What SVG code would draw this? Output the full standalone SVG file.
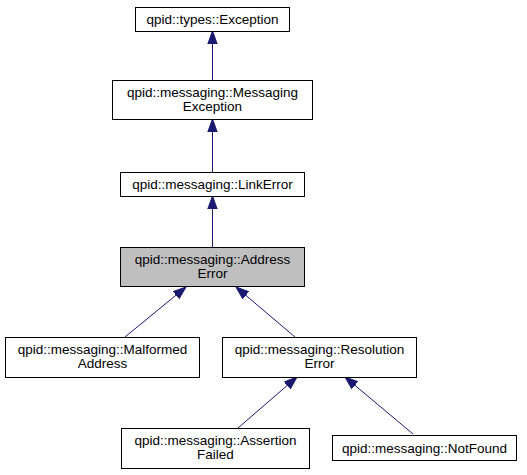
<svg xmlns="http://www.w3.org/2000/svg" width="527" height="475" viewBox="0 0 527 475">
<style>
.node rect{fill:#ffffff;stroke:#000000;stroke-width:1}
.node.cur rect{fill:#bfbfbf}
.node text{font-family:"Liberation Sans",Arial,Helvetica,sans-serif;font-size:13.5px;fill:#000000;text-anchor:middle}
.edge{stroke:#191970;stroke-width:1;fill:none;marker-end:url(#ah)}
</style>
<defs>
<marker id="ah" markerUnits="userSpaceOnUse" markerWidth="14" markerHeight="12" refX="13" refY="0" viewBox="0 -6 14 12" orient="auto">
<path d="M0,-4.7 L13,0 L0,4.7 Z" fill="#191970" stroke="#191970" stroke-width="1"/>
</marker>
</defs>
<rect width="527" height="475" fill="#ffffff"/>
<g id="edges">
<path class="edge" d="M212.5,80 L212.5,31"/>
<path class="edge" d="M212.5,172 L212.5,119"/>
<path class="edge" d="M212.5,247 L212.5,196"/>
<path class="edge" d="M125,337 L186,287"/>
<path class="edge" d="M295,337 L236,287"/>
<path class="edge" d="M238,428 L297,377"/>
<path class="edge" d="M413,434 L345,377"/>
</g>
<g id="n_types_exception" class="node">
<rect x="135.5" y="7.5" width="154" height="24"/>
<text x="212.5" y="24">qpid::types::Exception</text>
</g>
<g id="n_messaging_exception" class="node">
<rect x="112.5" y="80.5" width="200" height="39"/>
<text x="212.5" y="96.5">qpid::messaging::Messaging</text>
<text x="212.5" y="110.5">Exception</text>
</g>
<g id="n_link_error" class="node">
<rect x="120.5" y="172.5" width="184" height="24"/>
<text x="212.5" y="189">qpid::messaging::LinkError</text>
</g>
<g id="n_address_error" class="node cur">
<rect x="120.5" y="247.5" width="184" height="39"/>
<text x="212.5" y="263.5">qpid::messaging::Address</text>
<text x="212.5" y="277.5">Error</text>
</g>
<g id="n_malformed_address" class="node">
<rect x="5.5" y="337.5" width="194" height="40"/>
<text x="102.5" y="354">qpid::messaging::Malformed</text>
<text x="102.5" y="368">Address</text>
</g>
<g id="n_resolution_error" class="node">
<rect x="222.5" y="337.5" width="194" height="40"/>
<text x="319.5" y="354">qpid::messaging::Resolution</text>
<text x="319.5" y="368">Error</text>
</g>
<g id="n_assertion_failed" class="node">
<rect x="121.5" y="428.5" width="188" height="40"/>
<text x="215.5" y="445">qpid::messaging::Assertion</text>
<text x="215.5" y="459">Failed</text>
</g>
<g id="n_not_found" class="node">
<rect x="332.5" y="435.5" width="184" height="25"/>
<text x="424.5" y="452.5">qpid::messaging::NotFound</text>
</g>
</svg>
